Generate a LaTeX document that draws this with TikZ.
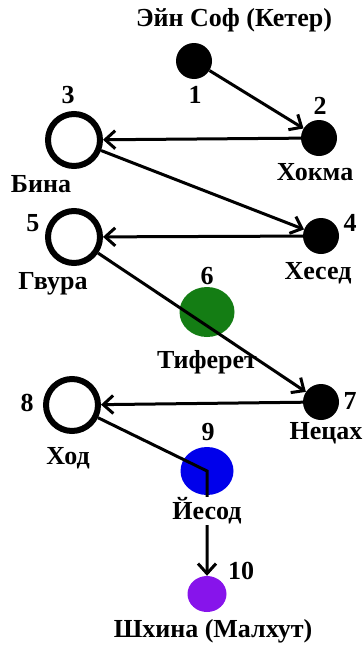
\documentclass[tikz,border=0pt]{standalone}
\usepackage{fontspec}
\setmainfont{Liberation Serif}
\usetikzlibrary{positioning,shapes.geometric,arrows.meta}
\definecolor{tifgreen}{RGB}{20,125,20}
\definecolor{yesblue}{RGB}{0,0,235}
\definecolor{malviolet}{RGB}{135,20,235}
\tikzset{
    % filled sefirot
    sefira/.style={circle, fill=black, inner sep=0pt, minimum size=36pt},
    % open rings
    ring/.style={circle, draw=black, line width=6pt, fill=white,
                 inner sep=0pt, minimum size=52pt},
    blob/.style={ellipse, inner sep=0pt},
    lbl/.style={font=\fontsize{26}{28}\selectfont\bfseries, inner sep=1pt},
    flow/.style={line width=3pt,
                 -{Straight Barb[length=10pt,width=18pt,line width=3pt]}}
}

\begin{document}
\begin{tikzpicture}[x=1pt,y=-1pt]
    \useasboundingbox (0,0) rectangle (364,648);

    % Sefirot
    \node[sefira] (n1) at (194,61) {};
    \node[sefira] (n2) at (319,138) {};
    \node[ring]   (n3) at (74,140) {};
    \node[sefira] (n4) at (321,236) {};
    \node[ring]   (n5) at (74,237) {};
    \node[blob, fill=tifgreen, minimum width=55pt, minimum height=50pt] (n6) at (207,312) {};
    \node[sefira] (n7) at (321,402) {};
    \node[ring]   (n8) at (72,405) {};
    \node[blob, fill=yesblue, minimum width=53pt, minimum height=48pt] (n9) at (207,471) {};
    \node[blob, fill=malviolet, minimum width=39pt, minimum height=36pt] (n10) at (207,594) {};

    % Flow of light
    \draw[flow] (n1) -- (n2);
    \draw[flow] (n2) -- (n3);
    \draw[flow] (n3) -- (n4);
    \draw[flow] (n4) -- (n5);
    \draw[flow] (n5) -- (n7);
    \draw[flow] (n7) -- (n8);
    \draw[flow] (n8) -- (n9.center) -- (n10);

    % Numbers
    \node[lbl] (num1) at (195,95) {1};
    \node[lbl] (num2) at (320,106) {2};
    \node[lbl] (num3) at (68,95) {3};
    \node[lbl] (num4) at (350,223) {4};
    \node[lbl] (num5) at (33,223) {5};
    \node[lbl] (num6) at (207,276) {6};
    \node[lbl] (num7) at (350,401) {7};
    \node[lbl] (num8) at (27,403) {8};
    \node[lbl] (num9) at (208,432) {9};
    \node[lbl] (num10) at (241,571) {10};

    % Names
    \node[lbl] (keter) at (234,20) {Эйн Соф (Кетер)};
    \node[lbl] (hokhma) at (315,172) {Хокма};
    \node[lbl] (bina) at (41,184) {Бина};
    \node[lbl] (hesed) at (318,273) {Хесед};
    \node[lbl] (gvura) at (53,284) {Гвура};
    \node[lbl] (tiferet) at (207,362) {Тиферет};
    \node[lbl] (netzah) at (326,433) {Нецах};
    \node[lbl] (hod) at (68,458) {Ход};
    \node[lbl, fill=white] (yesod) at (207,511) {Йесод};
    \node[lbl] (malkhut) at (213,631) {Шхина (Малхут)};
\end{tikzpicture}
\end{document}
